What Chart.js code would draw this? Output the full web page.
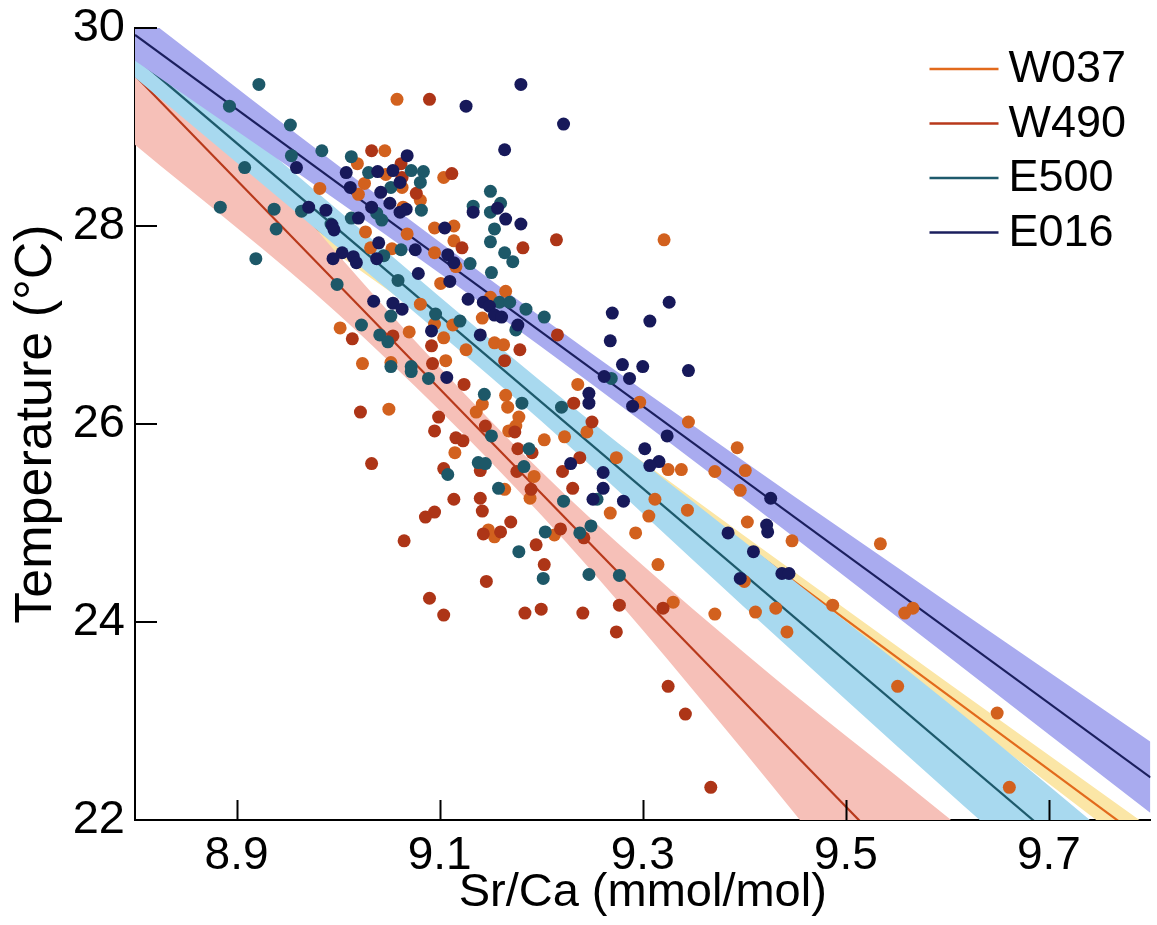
<!DOCTYPE html>
<html lang="en">
<head>
  <meta charset="utf-8">
  <title>Sr/Ca - Temperature calibration</title>
  <script src="https://cdn.jsdelivr.net/npm/chart.js@4"></script>
  <style>
html, body {
  margin: 0;
  padding: 0;
  background: #fff;
}
#chart {
  display: block;
}
  </style>
</head>
<body>
  <canvas id="chart" width="1157" height="925"></canvas>
  <script type="text/javascript">
const FONT = "'Liberation Sans', Arial, Helvetica, sans-serif";

const xTicks = [8.9, 9.1, 9.3, 9.5, 9.7];
const yTicks = [22, 24, 26, 28, 30];
const names = ['W037', 'W490', 'E500', 'E016'];

// regression lines, read at both ends of the x axis
const fitSr = [8.8, 9.8];
const w037Fit = [29.33, 21.75];
const w490Fit = [29.52, 18.97];
const e500Fit = [29.71, 20.99];
const e016Fit = [29.93, 22.43];

// confidence bands (upper / lower edge)
const bandSr = [8.8, 9.0, 9.2, 9.4, 9.6, 9.8];
const w037Upper = [29.53, 27.91, 26.37, 24.87, 23.39, 21.92];
const w037Lower = [29.13, 27.71, 26.23, 24.69, 23.15, 21.58];
const w490Upper = [30.22, 27.71, 25.52, 23.69, 22.03, 20.32];
const w490Lower = [28.82, 27.11, 25.08, 22.69, 20.13, 17.62];
const e500Upper = [29.92, 28.16, 26.43, 24.81, 23.19, 21.49];
const e500Lower = [29.50, 27.78, 26.03, 24.15, 22.29, 20.49];
const e016Upper = [30.19, 28.61, 27.08, 25.62, 24.20, 22.79];
const e016Lower = [29.67, 28.25, 26.78, 25.24, 23.66, 22.07];

// samples [Sr/Ca, temperature]
const w037Points = [
  [9.058, 29.28], [9.046, 28.76], [9.019, 28.63], [9.047, 28.52], [9.026, 28.43], [9.063, 28.39],
  [8.982, 28.38], [9.020, 28.32], [9.081, 28.26], [9.104, 28.49], [9.027, 27.94], [9.068, 27.92],
  [9.095, 27.98], [9.114, 28.00], [9.114, 27.85], [9.032, 27.78], [9.053, 27.77], [9.095, 27.73],
  [9.116, 27.59], [9.101, 27.42], [9.165, 27.34], [9.150, 27.28], [9.064, 28.19], [9.142, 27.07],
  [9.154, 26.82], [9.163, 26.80], [9.126, 26.75], [9.104, 26.87], [9.113, 27.00], [9.095, 27.01],
  [9.081, 27.21], [9.070, 26.93], [9.002, 26.97], [9.024, 26.61], [9.050, 26.15], [9.052, 26.62],
  [9.106, 26.64], [9.136, 26.12], [9.142, 26.20], [9.167, 26.17], [9.165, 26.29], [9.178, 26.07],
  [9.175, 25.98], [9.168, 25.93], [9.203, 25.84], [9.115, 25.71], [9.193, 25.47], [9.189, 25.25],
  [9.148, 24.93], [9.154, 24.86], [9.213, 24.88], [9.236, 26.40], [9.223, 25.87], [9.245, 25.92],
  [9.321, 27.86], [9.297, 26.22], [9.345, 26.02], [9.393, 25.76], [9.274, 25.66], [9.325, 25.54],
  [9.338, 25.54], [9.371, 25.52], [9.401, 25.53], [9.396, 25.33], [9.312, 25.24], [9.344, 25.13],
  [9.268, 25.10], [9.306, 25.07], [9.403, 25.01], [9.447, 24.82], [9.534, 24.79], [9.293, 24.90],
  [9.400, 24.41], [9.315, 24.58], [9.487, 24.17], [9.330, 24.20], [9.371, 24.08], [9.411, 24.10],
  [9.431, 24.14], [9.442, 23.90], [9.558, 24.09], [9.566, 24.14], [9.551, 23.35], [9.649, 23.08],
  [9.661, 22.33], [9.164, 25.34]
];
const w490Points = [
  [9.090, 29.28], [9.033, 28.76], [9.062, 28.63], [9.063, 28.49], [9.077, 28.33], [9.112, 28.53],
  [9.122, 27.78], [9.182, 27.78], [9.215, 27.86], [9.216, 26.90], [9.179, 26.75], [9.092, 26.79],
  [9.054, 26.89], [9.014, 26.86], [9.093, 26.61], [9.164, 26.64], [9.124, 26.40], [9.022, 26.12],
  [9.099, 26.07], [9.095, 25.93], [9.116, 25.86], [9.123, 25.83], [9.145, 25.98], [9.174, 25.92],
  [9.177, 25.75], [9.191, 25.71], [9.238, 25.66], [9.033, 25.60], [9.104, 25.55], [9.140, 25.53],
  [9.176, 25.52], [9.190, 25.34], [9.231, 25.35], [9.221, 25.52], [9.219, 24.94], [9.114, 25.24],
  [9.140, 25.25], [9.142, 25.12], [9.095, 25.11], [9.086, 25.06], [9.160, 24.91], [9.143, 24.89],
  [9.065, 24.82], [9.195, 24.78], [9.203, 24.58], [9.146, 24.41], [9.090, 24.24], [9.242, 24.85],
  [9.250, 26.02], [9.232, 26.21], [9.170, 25.01], [9.104, 24.07], [9.184, 24.09], [9.200, 24.13],
  [9.241, 24.09], [9.277, 24.17], [9.320, 24.14], [9.274, 23.90], [9.325, 23.35], [9.342, 23.07],
  [9.367, 22.33]
];
const e500Points = [
  [8.922, 29.43], [8.893, 29.21], [8.953, 29.02], [8.984, 28.76], [9.013, 28.70], [8.954, 28.71],
  [8.908, 28.59], [9.030, 28.54], [9.072, 28.56], [9.084, 28.55], [9.081, 28.44], [9.052, 28.39],
  [9.082, 28.16], [9.150, 28.35], [9.160, 28.23], [9.133, 28.20], [9.150, 28.14], [9.154, 27.97],
  [9.150, 27.84], [9.164, 27.73], [9.172, 27.64], [9.130, 27.62], [9.151, 27.53], [9.013, 28.08],
  [9.043, 28.06], [8.884, 28.19], [8.937, 28.17], [8.939, 27.97], [8.919, 27.67], [8.964, 28.15],
  [8.993, 28.02], [9.062, 27.76], [9.045, 27.70], [8.999, 27.41], [9.059, 27.45], [9.038, 28.13],
  [9.159, 27.23], [9.169, 27.23], [9.185, 27.16], [9.203, 27.08], [9.175, 26.95], [9.120, 27.04],
  [9.096, 27.11], [9.052, 27.09], [9.023, 27.00], [9.041, 26.90], [9.049, 26.83], [9.052, 26.58],
  [9.072, 26.58], [9.072, 26.53], [9.089, 26.46], [9.144, 26.30], [9.181, 26.21], [9.220, 26.17],
  [9.151, 25.88], [9.188, 25.75], [9.138, 25.61], [9.145, 25.60], [9.108, 25.49], [9.183, 25.57],
  [9.158, 25.35], [9.222, 25.22], [9.204, 24.91], [9.238, 24.90], [9.249, 24.97], [9.178, 24.71],
  [9.202, 24.44], [9.247, 24.48], [9.269, 26.46], [9.255, 25.24], [9.277, 24.47]
];
const e016Points = [
  [9.180, 29.43], [9.126, 29.21], [9.222, 29.03], [9.164, 28.77], [9.068, 28.71], [8.959, 28.59],
  [9.039, 28.55], [9.054, 28.56], [9.008, 28.54], [9.061, 28.44], [9.012, 28.39], [9.042, 28.34],
  [9.051, 28.23], [8.971, 28.19], [8.988, 28.16], [9.033, 28.19], [9.067, 28.17], [9.061, 28.14],
  [9.020, 28.08], [9.133, 28.14], [9.157, 28.18], [9.165, 28.07], [9.180, 28.02], [8.994, 28.01],
  [8.996, 27.96], [9.105, 27.98], [9.040, 27.83], [9.076, 27.76], [9.004, 27.73], [9.015, 27.69],
  [8.995, 27.67], [9.018, 27.63], [9.038, 27.67], [9.108, 27.71], [9.114, 27.63], [9.079, 27.52],
  [9.110, 27.44], [9.035, 27.24], [9.054, 27.22], [9.063, 27.16], [9.128, 27.26], [9.143, 27.23],
  [9.149, 27.19], [9.154, 27.10], [9.161, 27.08], [9.177, 27.00], [9.092, 26.94], [9.140, 26.90],
  [9.107, 26.47], [9.326, 27.23], [9.270, 27.12], [9.307, 27.04], [9.268, 26.84], [9.280, 26.60],
  [9.300, 26.58], [9.345, 26.54], [9.262, 26.48], [9.287, 26.46], [9.247, 26.31], [9.247, 26.21],
  [9.290, 26.18], [9.324, 25.88], [9.302, 25.75], [9.316, 25.62], [9.307, 25.58], [9.229, 25.60],
  [9.261, 25.51], [9.261, 25.35], [9.251, 25.24], [9.281, 25.22], [9.426, 25.25], [9.422, 24.98],
  [9.423, 24.91], [9.384, 24.90], [9.409, 24.71], [9.396, 24.44], [9.437, 24.49], [9.444, 24.49]
];

const dotColors = ['#d2611e', '#ad3517', '#1d5868', '#17195a'];
const lineColors = ['#e26a1c', '#b8391b', '#1e5a6c', '#1b1f5e'];
const bandColors = ['#fbe6a6', '#f6c0b8', '#a8d9ef', '#a9abef'];

const toXY = (xs, ys) => xs.map((x, i) => ({ x: x, y: ys[i] }));
const pairs = (arr) => arr.map(p => ({ x: p[0], y: p[1] }));

// a band is an upper edge filled down to the lower edge that follows it
function band(i, upper, lower, order) {
  const common = {
    type: 'line',
    showLine: true,
    pointRadius: 0,
    borderWidth: 0,
    borderColor: 'rgba(0,0,0,0)',
    cubicInterpolationMode: 'monotone',
    clip: 0,
    order: order
  };
  return [
    Object.assign({}, common, { label: names[i] + ' band', data: toXY(bandSr, upper), backgroundColor: bandColors[i], fill: '+1' }),
    Object.assign({}, common, { label: names[i] + ' band low', data: toXY(bandSr, lower), fill: false })
  ];
}

function fitLine(i, values, order) {
  return {
    type: 'line',
    label: names[i],
    data: toXY(fitSr, values),
    showLine: true,
    borderColor: lineColors[i],
    borderWidth: 2.2,
    pointRadius: 0,
    fill: false,
    clip: 0,
    order: order
  };
}

function samples(i, points, order) {
  return {
    type: 'scatter',
    label: names[i] + ' samples',
    data: pairs(points),
    backgroundColor: dotColors[i],
    borderWidth: 0,
    pointRadius: 6.5,
    pointHoverRadius: 6.5,
    order: order
  };
}

// lower order is drawn on top; each band and its line go down together,
// so a later site's band hides the earlier site's line
const datasets = [].concat(
  samples(3, e016Points, 1),
  samples(2, e500Points, 2),
  samples(1, w490Points, 3),
  samples(0, w037Points, 4),
  fitLine(3, e016Fit, 5),
  band(3, e016Upper, e016Lower, 6),
  fitLine(2, e500Fit, 7),
  band(2, e500Upper, e500Lower, 8),
  fitLine(1, w490Fit, 9),
  band(1, w490Upper, w490Lower, 10),
  fitLine(0, w037Fit, 11),
  band(0, w037Upper, w037Lower, 12)
);

// MATLAB style tick marks pointing into the plot
const inwardTicks = {
  id: 'inwardTicks',
  afterDatasetsDraw(chart) {
    const { ctx, chartArea, scales } = chart;
    ctx.save();
    ctx.strokeStyle = '#000';
    ctx.lineWidth = 2;
    xTicks.forEach(v => {
      const px = Math.round(scales.x.getPixelForValue(v)) + 0.5;
      ctx.beginPath();
      ctx.moveTo(px, chartArea.bottom);
      ctx.lineTo(px, chartArea.bottom - 20);
      ctx.stroke();
    });
    yTicks.forEach(v => {
      const py = Math.round(scales.y.getPixelForValue(v));
      ctx.beginPath();
      ctx.moveTo(chartArea.left, py);
      ctx.lineTo(chartArea.left + 22, py);
      ctx.stroke();
    });
    ctx.restore();
  }
};

const cornerLegend = {
  id: 'cornerLegend',
  afterDraw(chart) {
    const { ctx, chartArea } = chart;
    const x0 = chartArea.right - 221;
    ctx.save();
    ctx.font = '45px ' + FONT;
    ctx.textBaseline = 'middle';
    ctx.textAlign = 'left';
    names.forEach((name, i) => {
      const y = chartArea.top + 41 + i * 54.5;
      ctx.strokeStyle = lineColors[i];
      ctx.lineWidth = 2.5;
      ctx.beginPath();
      ctx.moveTo(x0, y);
      ctx.lineTo(x0 + 69, y);
      ctx.stroke();
      ctx.fillStyle = '#000';
      ctx.fillText(name, x0 + 79, y + 1);
    });
    ctx.restore();
  }
};

const config = {
  type: 'scatter',
  data: { datasets: datasets },
  options: {
    responsive: false,
    animation: false,
    devicePixelRatio: 1,
    events: [],
    layout: { padding: { top: 28, right: 0, bottom: 0, left: 0 } },
    plugins: {
      legend: { display: false },
      tooltip: { enabled: false }
    },
    scales: {
      x: {
        type: 'linear',
        min: 8.8,
        max: 9.8,
        afterBuildTicks: (scale) => { scale.ticks = xTicks.map(v => ({ value: v })); },
        afterFit: (scale) => { scale.height = 105; },
        grid: { display: true, drawOnChartArea: false, drawTicks: false, color: 'rgba(0,0,0,0)' },
        border: { display: true, color: '#000', width: 2 },
        ticks: {
          color: '#000',
          font: { family: FONT, size: 46 },
          padding: 9,
          maxRotation: 0,
          autoSkip: false,
          callback: (v) => Number(v).toFixed(1)
        },
        title: {
          display: true,
          text: 'Sr/Ca (mmol/mol)',
          color: '#000',
          font: { family: FONT, size: 47 },
          padding: { top: 0, bottom: 4 }
        }
      },
      y: {
        type: 'linear',
        min: 22,
        max: 30,
        afterBuildTicks: (scale) => { scale.ticks = yTicks.map(v => ({ value: v })); },
        afterFit: (scale) => { scale.width = 135; },
        grid: { display: true, drawOnChartArea: false, drawTicks: false, color: 'rgba(0,0,0,0)' },
        border: { display: true, color: '#000', width: 2 },
        ticks: {
          color: '#000',
          // small line height so the top label does not push the plot down
          font: { family: FONT, size: 47, lineHeight: 0.7 },
          padding: 10,
          autoSkip: false,
          callback: (v) => String(v)
        },
        title: {
          display: true,
          text: 'Temperature (°C)',
          color: '#000',
          font: { family: FONT, size: 52 },
          padding: { top: 5, bottom: 0 }
        }
      }
    }
  },
  plugins: [inwardTicks, cornerLegend]
};

const srChart = new Chart(document.getElementById('chart'), config);
  </script>
</body>
</html>
